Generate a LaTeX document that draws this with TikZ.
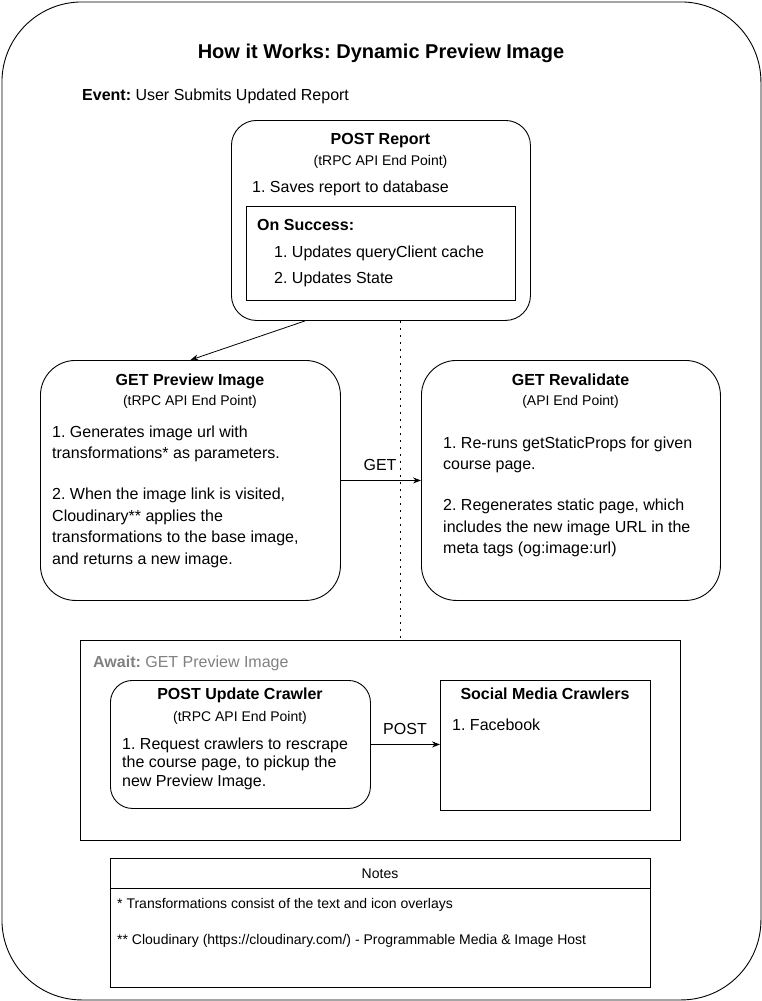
\documentclass[tikz,border=0pt]{standalone}
\usepackage{fontspec}
\setmainfont{Liberation Sans}
\usetikzlibrary{arrows.meta,calc}
\frenchspacing
\begin{document}
\begin{tikzpicture}[x=1pt,y=-1pt,
  box/.style={draw,line width=0.9pt,inner sep=0,anchor=north west},
  body/.style={inner sep=0,anchor=north west,align=left,font=\fontsize{16}{21.5}\selectfont},
  ttl/.style={inner sep=0,anchor=base,font=\bfseries\fontsize{16}{19}\selectfont},
  sub/.style={inner sep=0,anchor=base,font=\fontsize{14}{17}\selectfont},
  lbl/.style={inner sep=0,anchor=base,font=\fontsize{16}{19}\selectfont},
  arr/.style={draw,line width=0.8pt,-{Stealth[length=8pt,width=6pt]}},
  note/.style={inner sep=0,anchor=base west,font=\fontsize{14}{17}\selectfont}
]
\frenchspacing
\useasboundingbox (0,0) rectangle (762,1001);
% outer frame
\node[box,rounded corners=80pt,minimum width=759pt,minimum height=998pt] (outer) at (1.5,1.5) {};
\node[inner sep=0,anchor=base,font=\bfseries\fontsize{20}{24}\selectfont] (title) at (381,58) {How it Works: Dynamic Preview Image};
\node[inner sep=0,anchor=base west,font=\fontsize{16}{19}\selectfont] (event) at (82,100.7) {\textbf{Event:} User Submits Updated Report};

% POST Report
\node[box,rounded corners=25pt,minimum width=299pt,minimum height=200pt] (post) at (231,120) {};
\node[ttl] (postt) at (380.5,144.7) {POST Report};
\node[sub] (posts) at (380.5,165) {(tRPC API End Point)};
\node[body] (postb) at (252,180.3) {1. Saves report to database};
\node[box,minimum width=269pt,minimum height=94pt,rounded corners=0pt] (succ) at (246,206) {};
\node[body,font=\bfseries\fontsize{16}{19}\selectfont] (succt) at (257,219.3) {On Success:};
\node[body,font=\fontsize{16}{26}\selectfont] (succb) at (274,245.3) {1. Updates queryClient cache\\2. Updates State};

% GET Preview Image
\node[box,rounded corners=35pt,minimum width=300pt,minimum height=240pt] (gpi) at (40,360) {};
\node[ttl] (gpit) at (190,385.7) {GET Preview Image};
\node[sub] (gpis) at (190,405) {(tRPC API End Point)};
\node[body] (gpib) at (52,425.3) {1. Generates image url with\\transformations* as parameters.\\[19.5pt]2. When the image link is visited,\\Cloudinary** applies the\\transformations to the base image,\\and returns a new image.};

% GET Revalidate
\node[box,rounded corners=35pt,minimum width=299pt,minimum height=240pt] (rev) at (421,360) {};
\node[ttl] (revt) at (570.5,385.7) {GET Revalidate};
\node[sub] (revs) at (570.5,405) {(API End Point)};
\node[body] (revb) at (443,436.3) {1. Re-runs getStaticProps for given\\course page.\\[19.5pt]2. Regenerates static page, which\\includes the new image URL in the\\meta tags (og:image:url)};

% Await
\node[box,minimum width=600pt,minimum height=200pt] (await) at (80,640) {};
\node[inner sep=0,anchor=base west,font=\fontsize{16}{19}\selectfont,text=black!50] (awaitt) at (93,667.7) {\textbf{Await:} GET Preview Image};
\node[box,rounded corners=22pt,minimum width=260pt,minimum height=128pt] (crawl) at (110,680) {};
\node[ttl] (crawlt) at (240,699.7) {POST Update Crawler};
\node[sub] (crawls) at (240,721) {(tRPC API End Point)};
\node[body,font=\fontsize{16}{18.5}\selectfont] (crawlb) at (122,737.3) {1. Request crawlers to rescrape\\the course page, to pickup the\\new Preview Image.};
\node[box,minimum width=210pt,minimum height=130pt] (social) at (440,680) {};
\node[ttl] (socialt) at (545,699.7) {Social Media Crawlers};
\node[body] (socialb) at (452,718.3) {1. Facebook};

% Notes
\node[box,minimum width=540pt,minimum height=129pt] (notes) at (110,858) {};
\draw[line width=0.9pt] (notes.north west) ++(0,30) -- ($(notes.north east)+(0,30)$);
\node[note,anchor=base] (notest) at (380,878) {Notes};
\node[note] (note1) at (117,908) {* Transformations consist of the text and icon overlays};
\node[note] (note2) at (117,944) {** Cloudinary (https://cloudinary.com/) - Programmable Media \& Image Host};

% connectors
\draw[line width=0.9pt,dash pattern=on 1.8pt off 5.2pt] (post.south -| 400,0) -- (await.north -| 400,0);
\draw[arr] ($(post.south west)!0.247!(post.south east)$) -- (gpi.north);
\draw[arr] (gpi.east) -- (rev.west);
\node[lbl] (getl) at (380,470.7) {GET};
\draw[arr] (crawl.east) -- (crawl.east -| social.west);
\node[lbl] (postl) at (405,734.7) {POST};
\end{tikzpicture}
\end{document}
